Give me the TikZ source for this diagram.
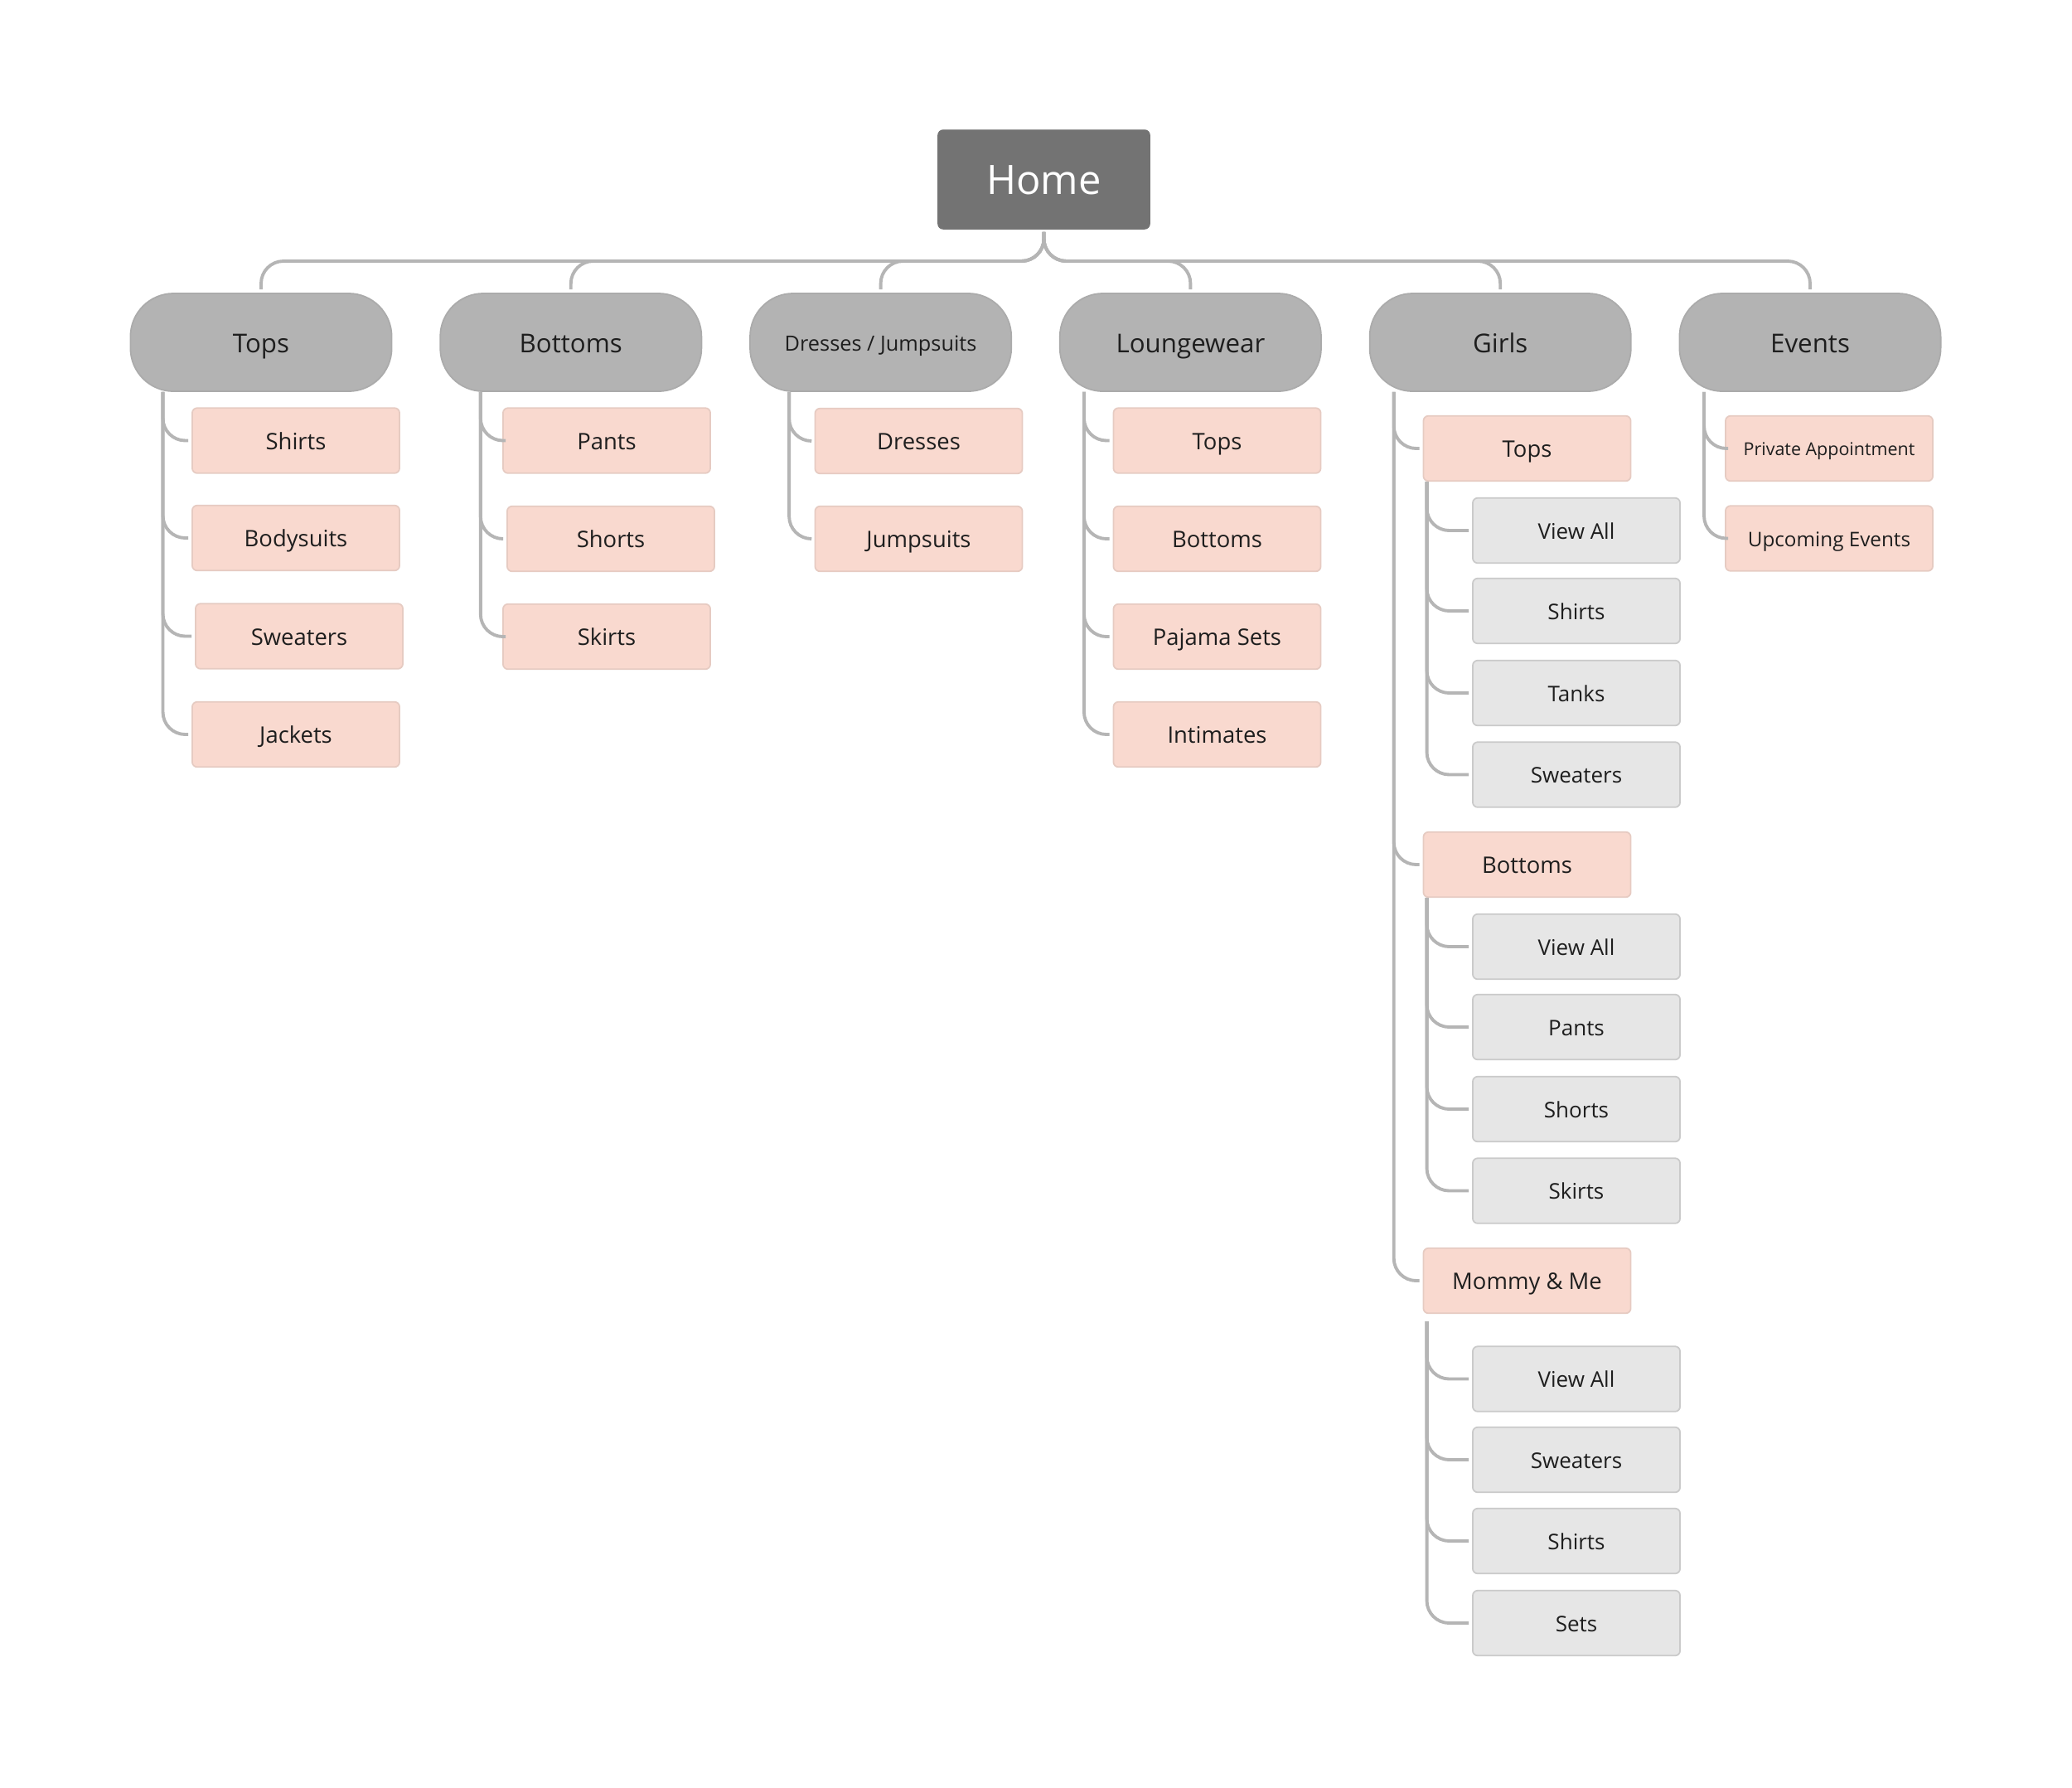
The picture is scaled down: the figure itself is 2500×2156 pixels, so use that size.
\documentclass[tikz,border=0pt]{standalone}
\usepackage{fontspec}
\setmainfont{Open Sans}
\usetikzlibrary{calc}
\definecolor{homegray}{HTML}{737373}
\definecolor{catgray}{HTML}{B3B3B3}
\definecolor{catborder}{HTML}{ABABAB}
\definecolor{pinkfill}{HTML}{F9D9CF}
\definecolor{pinkborder}{HTML}{E6CBC2}
\definecolor{boxgray}{HTML}{E6E6E6}
\definecolor{boxborder}{HTML}{CACACA}
\definecolor{linegray}{HTML}{B5B5B5}
\definecolor{textdark}{HTML}{1E1E1E}
\begin{document}
\begin{tikzpicture}[x=0.01cm,y=-0.01cm,
  conn/.style={draw=linegray,line width=1.1pt,rounded corners=0.27cm},
  childconn/.style={conn,shorten >=0.04cm},
  homebox/.style={fill=homegray,draw=homegray,rounded corners=0.06cm,minimum width=2.55cm,minimum height=1.19cm,inner sep=0pt,text=white,font=\fontsize{13.9}{16}\selectfont,text height=10.4pt,text depth=0pt},
  catbox/.style={fill=catgray,draw=catborder,line width=0.5pt,rounded corners=0.52cm,minimum width=3.15cm,minimum height=1.18cm,inner sep=0pt,text=textdark,font=\fontsize{8.9}{10}\selectfont,text height=7.1pt,text depth=0pt},
  pinkbox/.style={fill=pinkfill,draw=pinkborder,line width=0.5pt,rounded corners=0.06cm,minimum width=2.5cm,minimum height=0.785cm,inner sep=0pt,text=textdark,font=\fontsize{7.8}{9}\selectfont,text height=6.2pt,text depth=0pt},
  graybox/.style={pinkbox,fill=boxgray,draw=boxborder,font=\fontsize{7.4}{9}\selectfont,text height=5.9pt}
]
\fill[white] (0,0) rectangle (2500,2156);
\useasboundingbox (0,0) rectangle (2500,2156);

% root
\node[homebox] (home) at (1259.5,216.5) {Home};
\coordinate (bus) at (0,315);

% categories
\node[catbox] (cTops) at (315,413) {Tops};
\node[catbox] (cBot) at (688.8,413) {Bottoms};
\node[catbox,font=\fontsize{7.2}{9}\selectfont,text height=5.8pt] (cDJ) at (1062.6,413) {Dresses / Jumpsuits};
\node[catbox] (cLounge) at (1436.4,413) {Loungewear};
\node[catbox] (cGirls) at (1810.2,413) {Girls};
\node[catbox] (cEvents) at (2184,413) {Events};

\foreach \c in {cTops,cBot,cDJ,cLounge,cGirls,cEvents}
  \draw[conn,shorten <=0.03cm,shorten >=0.04cm] (home.south) -- (home.south |- bus) -- (\c.north |- bus) -- (\c.north);

% Tops
\node[pinkbox] (tShirts) at (357,531.5) {Shirts};
\node[pinkbox] (tBody) at (357,649) {Bodysuits};
\node[pinkbox] (tSweat) at (361,767.5) {Sweaters};
\node[pinkbox] (tJack) at (357,886) {Jackets};
\coordinate (t1) at ($(cTops.south west)+(40,0)$);
\foreach \n in {tShirts,tBody,tSweat,tJack}
  \draw[childconn] (t1) |- (\n.west);

% Bottoms
\node[pinkbox] (bPants) at (732,531.5) {Pants};
\node[pinkbox] (bShorts) at (737,650) {Shorts};
\node[pinkbox] (bSkirts) at (732,768) {Skirts};
\coordinate (t2) at ($(cBot.south west)+(49.5,0)$);
\foreach \n in {bPants,bShorts,bSkirts}
  \draw[childconn] (t2) |- (\n.west);

% Dresses / Jumpsuits
\node[pinkbox] (dDress) at (1108.5,532) {Dresses};
\node[pinkbox] (dJump) at (1108.5,650) {Jumpsuits};
\coordinate (t3) at ($(cDJ.south west)+(48,0)$);
\foreach \n in {dDress,dJump}
  \draw[childconn] (t3) |- (\n.west);

% Loungewear
\node[pinkbox] (lTops) at (1468.5,531.5) {Tops};
\node[pinkbox] (lBot) at (1468.5,650) {Bottoms};
\node[pinkbox] (lPaj) at (1468.5,768) {Pajama Sets};
\node[pinkbox] (lInt) at (1468.5,886) {Intimates};
\coordinate (t4) at ($(cLounge.south west)+(30,0)$);
\foreach \n in {lTops,lBot,lPaj,lInt}
  \draw[childconn] (t4) |- (\n.west);

% Girls
\node[pinkbox] (gTops) at (1842.5,541) {Tops};
\node[pinkbox] (gBot) at (1842.5,1043) {Bottoms};
\node[pinkbox] (gMom) at (1842.5,1545) {Mommy \& Me};
\coordinate (t5) at ($(cGirls.south west)+(30,0)$);
\foreach \n in {gTops,gBot,gMom}
  \draw[childconn] (t5) |- (\n.west);

\node[graybox] (gtView) at (1902,640) {View All};
\node[graybox] (gtShirts) at (1902,737) {Shirts};
\node[graybox] (gtTanks) at (1902,836) {Tanks};
\node[graybox] (gtSweat) at (1902,934.5) {Sweaters};
\coordinate (t6) at ($(gTops.south west)+(5,0)$);
\foreach \n in {gtView,gtShirts,gtTanks,gtSweat}
  \draw[childconn] (t6) |- (\n.west);

\node[graybox] (gbView) at (1902,1142) {View All};
\node[graybox] (gbPants) at (1902,1239) {Pants};
\node[graybox] (gbShorts) at (1902,1338) {Shorts};
\node[graybox] (gbSkirts) at (1902,1436.5) {Skirts};
\coordinate (t7) at ($(gBot.south west)+(5,0)$);
\foreach \n in {gbView,gbPants,gbShorts,gbSkirts}
  \draw[childconn] (t7) |- (\n.west);

\node[graybox] (gmView) at (1902,1663.5) {View All};
\node[graybox] (gmSweat) at (1902,1761) {Sweaters};
\node[graybox] (gmShirts) at (1902,1859) {Shirts};
\node[graybox] (gmSets) at (1902,1958) {Sets};
\coordinate (t8) at ($(gMom.south west)+(5,9)$);
\foreach \n in {gmView,gmSweat,gmShirts,gmSets}
  \draw[childconn] (t8) |- (\n.west);

% Events
\node[pinkbox,font=\fontsize{6.1}{8}\selectfont,text height=4.9pt] (ePriv) at (2207,541) {Private Appointment};
\node[pinkbox,font=\fontsize{6.9}{8}\selectfont,text height=5.5pt] (eUp) at (2207,649.5) {Upcoming Events};
\coordinate (t9) at ($(cEvents.south west)+(30.5,0)$);
\foreach \n in {ePriv,eUp}
  \draw[childconn] (t9) |- (\n.west);
\end{tikzpicture}
\end{document}
